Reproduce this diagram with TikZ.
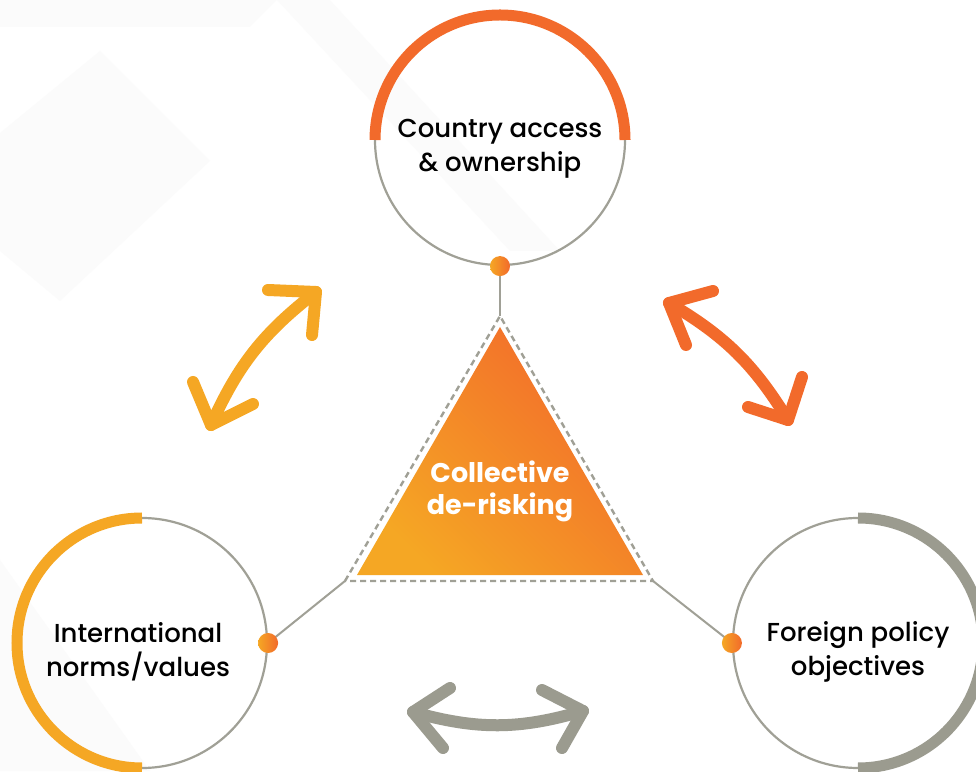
\documentclass[tikz,border=0pt]{standalone}
\usepackage{fontspec}
\setmainfont{Poppins}
\newfontfamily\pmed{Poppins Medium}
\definecolor{oraC}{RGB}{242,106,43}
\definecolor{yelC}{RGB}{245,167,36}
\definecolor{grayC}{RGB}{155,155,143}
\definecolor{lineC}{RGB}{160,160,150}
\definecolor{bgC}{RGB}{251,251,251}
\begin{document}
\begin{tikzpicture}[x=1pt,y=1pt,
  ring/.style={circle, draw=lineC, line width=2.2pt, minimum size=250pt, inner sep=0pt},
  lbl/.style={align=center, font=\pmed\fontsize{26}{34}\selectfont, yshift=-9pt},
  band/.style={line width=11pt},
  dot/.style={circle, minimum size=20pt, inner sep=0pt, left color=yelC, right color=oraC, draw=none},
  conn/.style={draw=lineC, line width=2pt},
  dashtri/.style={draw=lineC, line width=2.4pt, dash pattern=on 6pt off 4pt},
  arr/.style={line width=12pt, line cap=round, line join=round},
]
\useasboundingbox (0,0) rectangle (976,771);
\fill[white] (0,0) rectangle (976,771);
% faint background shapes
\fill[bgC] (0,771) -- (277,771) -- (250,744) -- (0,744) -- cycle;
\fill[bgC] (277,771) -- (330,771) -- (560,520) -- (510,520) -- cycle;
\fill[bgC] (0,638) -- (100,720) -- (210,610) -- (60,470) -- (0,520) -- cycle;
\fill[bgC] (0,211) -- (150,0) -- (0,0) -- cycle;

% triangle corners
\coordinate (tA) at (500,455);
\coordinate (tL) at (345,190);
\coordinate (tR) at (653,190);

% circles
\node[ring] (ctop) at (500,631) {};
\node[ring] (cleft) at (142,128) {};
\node[ring] (cright) at (858,128) {};
\node[lbl] (ltop) at (ctop.center) {Country access\\\& ownership};
\node[lbl, xshift=-4pt] (lleft) at (cleft.center) {International\\norms/values};
\node[lbl] (lright) at (cright.center) {Foreign policy\\objectives};

% thick arcs
\draw[band, oraC] (375,631) arc[start angle=180, end angle=0, radius=125];
\draw[band, yelC] (142,253) arc[start angle=90, end angle=270, radius=125];
\draw[band, grayC] (858,253) arc[start angle=90, end angle=-90, radius=125];

% connectors
\draw[conn] (ctop.south) -- (tA);
\draw[conn] (cleft.east) -- (tL);
\draw[conn] (cright.west) -- (tR);

% dots
\node[dot] (dtop) at (ctop.south) {};
\node[dot] (dleft) at (cleft.east) {};
\node[dot] (dright) at (cright.west) {};

% triangle
\shade[top color=oraC, bottom color=yelC, shading angle=-45] (357,196) -- (500,444) -- (643,196) -- cycle;
\draw[dashtri] (tL) -- (tA) -- (tR) -- cycle;
\node[text=white, align=center, font=\bfseries\fontsize{27}{32}\selectfont] (core) at (500,280) {Collective\\de-risking};

% yellow arrow
\coordinate (a1) at (316,479);
\coordinate (a2) at (211,346);
\draw[arr, yelC] (a2) to[bend left=14] (a1);
\draw[arr, yelC] (268,481) -- (a1) -- (312,436);
\draw[arr, yelC] (193,389) -- (a2) -- (253,367);

% orange arrow
\coordinate (b1) at (669,468);
\coordinate (b2) at (788,351);
\draw[arr, oraC] (b1) to[bend left=14] (b2);
\draw[arr, oraC] (713,480) -- (b1) -- (686,426);
\draw[arr, oraC] (802,394) -- (b2) -- (748,364);

% gray arrow
\coordinate (c1) at (413,59);
\coordinate (c2) at (583,60);
\draw[arr, grayC] (c1) to[bend right=16] (c2);
\draw[arr, grayC] (450,83) -- (c1) -- (443,23);
\draw[arr, grayC] (542,81) -- (c2) -- (562,23);
\end{tikzpicture}
\end{document}
